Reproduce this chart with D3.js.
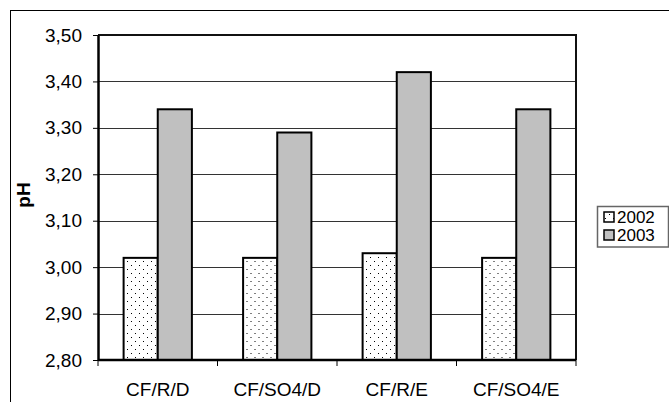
<!DOCTYPE html>
<html>
<head>
<meta charset="utf-8">
<script src="https://cdn.jsdelivr.net/npm/d3@7"></script>
<style>
  html, body { margin: 0; padding: 0; background: #fff; }
  svg { display: block; font-family: "Liberation Sans", Arial, sans-serif; }
</style>
</head>
<body>
<svg id="chart" width="669" height="402"></svg>
<script>
// pH per treatment, two sampling years
const categories = ["CF/R/D", "CF/SO4/D", "CF/R/E", "CF/SO4/E"];
const seriesNames = ["2002", "2003"];
const values2002 = [3.02, 3.02, 3.03, 3.02];
const values2003 = [3.34, 3.29, 3.42, 3.34];
const yTicks = [2.8, 2.9, 3.0, 3.1, 3.2, 3.3, 3.4, 3.5];
const yLabel = "pH";

const seriesValues = { "2002": values2002, "2003": values2003 };

const svg = d3.select("#chart");
const W = 669, H = 402;
const plot = { left: 98, right: 576, top: 35, bottom: 360 };
const fontSize = 19;

// sparse dot fill for the first series
const defs = svg.append("defs");
const pat = defs.append("pattern")
  .attr("id", "dots")
  .attr("patternUnits", "userSpaceOnUse")
  .attr("width", 8).attr("height", 8);
pat.append("rect").attr("width", 8).attr("height", 8).attr("fill", "#fff");
pat.append("rect").attr("x", 1).attr("y", 1).attr("width", 1).attr("height", 1).attr("fill", "#000");
pat.append("rect").attr("x", 5).attr("y", 5).attr("width", 1).attr("height", 1).attr("fill", "#000");

const fills = { "2002": "url(#dots)", "2003": "#c0c0c0" };

// chart area border (runs past the right and bottom edges)
svg.append("rect")
  .attr("x", 10.5).attr("y", 10.5)
  .attr("width", W + 20).attr("height", H + 20)
  .attr("fill", "#fff").attr("stroke", "#000").attr("stroke-width", 1);

const y = d3.scaleLinear().domain([2.8, 3.5]).range([plot.bottom, plot.top]);
const x0 = d3.scaleBand().domain(categories).range([plot.left, plot.right]).padding(0);
const x1 = d3.scaleBand().domain(seriesNames).range([0, x0.bandwidth()])
  .paddingInner(0).paddingOuter(0.75);

const fmt = v => d3.format(".2f")(v).replace(".", ",");

// gridlines
svg.append("g")
  .selectAll("line")
  .data(yTicks.filter(t => t > 2.8 && t < 3.5))
  .join("line")
  .attr("x1", plot.left).attr("x2", plot.right)
  .attr("y1", d => Math.round(y(d)) + 0.5).attr("y2", d => Math.round(y(d)) + 0.5)
  .attr("stroke", "#333").attr("stroke-width", 1);

// plot area top and right edges
svg.append("path")
  .attr("d", `M${plot.left},${y(3.5)}H${plot.right}V${plot.bottom}`)
  .attr("fill", "none").attr("stroke", "#111").attr("stroke-width", 2);

// bars
const groups = svg.append("g")
  .selectAll("g")
  .data(categories)
  .join("g")
  .attr("transform", d => `translate(${x0(d)},0)`);

groups.selectAll("rect")
  .data((c, i) => seriesNames.map(s => ({ s, v: seriesValues[s][i] })))
  .join("rect")
  .attr("x", d => x1(d.s))
  .attr("y", d => y(d.v))
  .attr("width", x1.bandwidth())
  .attr("height", d => y(2.8) - y(d.v))
  .attr("fill", d => fills[d.s])
  .attr("stroke", "#000")
  .attr("stroke-width", 2);

// y axis
const yAxis = d3.axisLeft(y).tickValues(yTicks).tickFormat(fmt).tickSizeInner(5).tickSizeOuter(0).tickPadding(11);
const gy = svg.append("g").attr("transform", `translate(${plot.left},0)`).call(yAxis);
gy.select(".domain").attr("stroke", "#000").attr("stroke-width", 2.5);
gy.selectAll(".tick line").attr("stroke", "#000");
gy.selectAll(".tick text").attr("font-size", fontSize).attr("fill", "#000")
  .attr("font-family", "'Liberation Sans', Arial, sans-serif");

// x axis: ticks between categories
const gx = svg.append("g").attr("transform", `translate(0,${plot.bottom})`);
gx.append("line")
  .attr("x1", plot.left).attr("x2", plot.right)
  .attr("stroke", "#000").attr("stroke-width", 2.5);
const boundaries = categories.map(c => x0(c)).concat([x0(categories[categories.length - 1]) + x0.bandwidth()]);
gx.selectAll("line.tk")
  .data(boundaries)
  .join("line").attr("class", "tk")
  .attr("x1", d => d).attr("x2", d => d)
  .attr("y1", 0).attr("y2", 6)
  .attr("stroke", "#000").attr("stroke-width", 1);
gx.selectAll("text")
  .data(categories)
  .join("text")
  .attr("x", d => x0(d) + x0.bandwidth() / 2)
  .attr("y", 36)
  .attr("text-anchor", "middle")
  .attr("font-size", fontSize)
  .attr("fill", "#000")
  .text(d => d);

// y axis title
svg.append("text")
  .attr("transform", `translate(30,195) rotate(-90)`)
  .attr("text-anchor", "middle")
  .attr("font-size", fontSize)
  .attr("font-weight", "bold")
  .attr("fill", "#000")
  .text(yLabel);

// legend
const lg = svg.append("g").attr("transform", "translate(597,206)");
lg.append("rect")
  .attr("x", 0.5).attr("y", 0.5).attr("width", 71).attr("height", 40.5)
  .attr("fill", "#fff").attr("stroke", "#666").attr("stroke-width", 1.5);
const items = lg.selectAll("g.item")
  .data(seriesNames)
  .join("g").attr("class", "item")
  .attr("transform", (d, i) => `translate(7,${11 + i * 18})`);
items.append("rect")
  .attr("x", 0).attr("y", -5).attr("width", 10).attr("height", 10)
  .attr("fill", d => fills[d]).attr("stroke", "#000").attr("stroke-width", 1.5);
items.append("text")
  .attr("x", 13).attr("y", 0).attr("dy", "0.35em")
  .attr("font-size", 17).attr("fill", "#000")
  .text(d => d);
</script>
</body>
</html>
